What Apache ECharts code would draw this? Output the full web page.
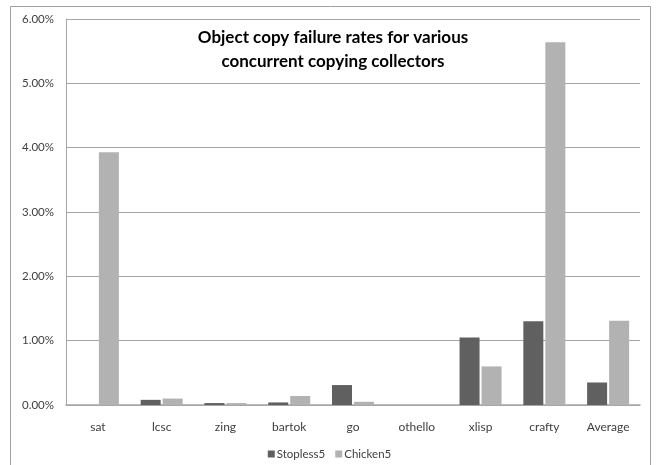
<!DOCTYPE html>
<html><head><meta charset="utf-8">
<script src="https://cdn.jsdelivr.net/npm/echarts@6/dist/echarts.min.js"></script>
<style>html,body{margin:0;padding:0;background:#fff}#c{width:659px;height:465px}</style>
</head><body><div id="c"></div>
<script>
const categories = ['sat','lcsc','zing','bartok','go','othello','xlisp','crafty','Average'];
const stopless5 = [0, 0.08, 0.03, 0.04, 0.31, 0, 1.05, 1.30, 0.35];
const chicken5 = [3.93, 0.10, 0.03, 0.14, 0.05, 0, 0.60, 5.64, 1.31];
const yTicks = [0,1,2,3,4,5,6];
const font = 'Lato, "Open Sans", sans-serif';
const chart = echarts.init(document.getElementById('c'));
chart.setOption({
  animation:false,
  title:{text:'Object copy failure rates for various\nconcurrent copying collectors',left:328,top:21,textAlign:'center',
    textStyle:{fontFamily:font,fontSize:17,fontWeight:'bold',color:'#000',lineHeight:24}},
  graphic:[{type:'rect',shape:{x:10.5,y:6.5,width:640,height:470},style:{fill:'none',stroke:'#a0a0a0',lineWidth:1}}],
  legend:{bottom:0,left:'center',itemWidth:7,itemHeight:7,itemGap:10,icon:'rect',
    textStyle:{fontFamily:font,fontSize:11.5,color:'#404040',padding:[0,0,0,-3]}},
  grid:{left:66,right:19,top:19,bottom:60},
  xAxis:{type:'category',data:categories,axisLine:{lineStyle:{color:'#a6a6a6',width:1.5}},axisTick:{show:false},
    axisLabel:{fontFamily:font,fontSize:12,color:'#404040',margin:16}},
  yAxis:{type:'value',min:0,max:6,interval:1,axisLine:{show:true,lineStyle:{color:'#a6a6a6',width:1}},
    splitLine:{lineStyle:{color:'#a6a6a6',width:1}},
    axisLabel:{fontFamily:font,fontSize:11.5,color:'#404040',margin:12,formatter:v=>yTicks.includes(v)?v.toFixed(2)+'%':''}},
  series:[
    {name:'Stopless5',type:'bar',data:stopless5,barWidth:20,barGap:'10%',itemStyle:{color:'#606060'}},
    {name:'Chicken5',type:'bar',data:chicken5,barWidth:20,itemStyle:{color:'#b2b2b2'}}
  ]
});
</script></body></html>
